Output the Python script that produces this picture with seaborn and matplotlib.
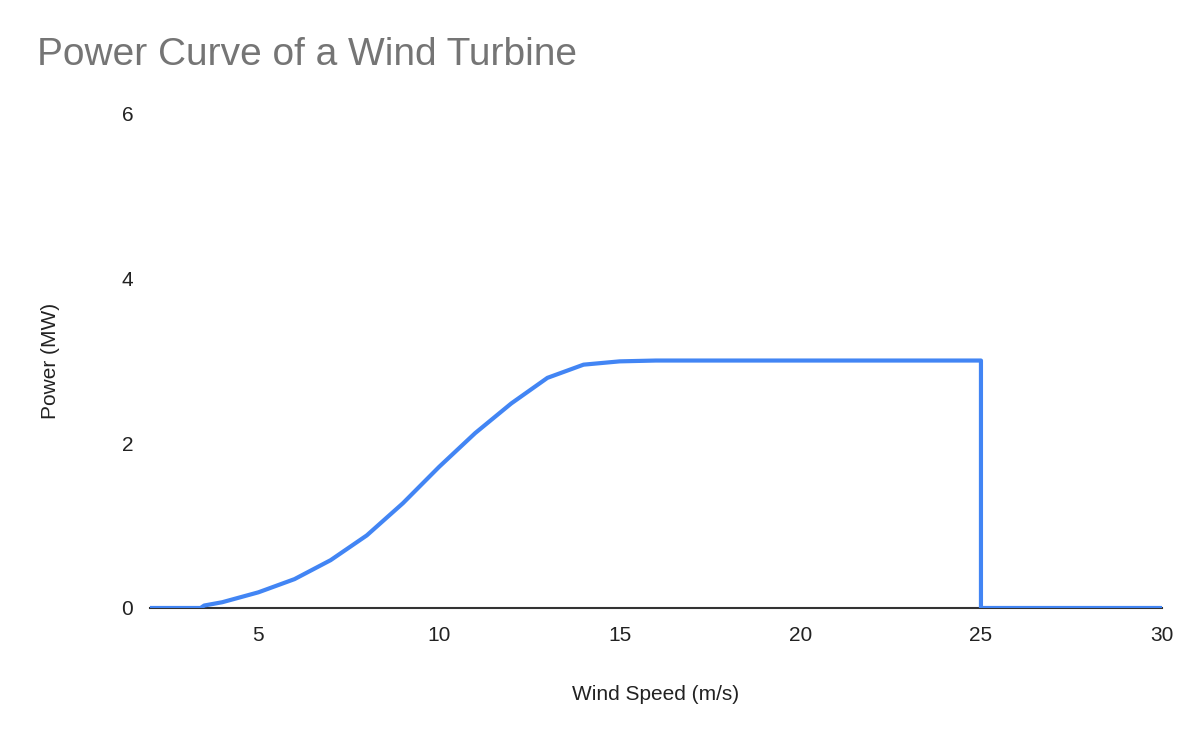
import numpy as np
import pandas as pd
import matplotlib
matplotlib.use('Agg')
import matplotlib.pyplot as plt
import seaborn as sns

# --- DADOS ---
wind_speed = [2, 3, 3.4, 3.5, 4, 5, 6, 7, 8, 9, 10, 11, 12, 13, 14, 15, 16, 17, 18, 19, 20,
              21, 22, 23, 24, 25, 25, 26, 27, 28, 29, 30]
power_mw = [0, 0, 0, 0.03, 0.07, 0.19, 0.35, 0.58, 0.88, 1.27, 1.71, 2.12, 2.48, 2.79, 2.95, 2.99, 3.0, 3.0, 3.0, 3.0, 3.0,
            3.0, 3.0, 3.0, 3.0, 3.0, 0, 0, 0, 0, 0, 0]
x_ticks = [5, 10, 15, 20, 25, 30]
y_ticks = [0, 2, 4, 6]

df = pd.DataFrame({'speed': wind_speed, 'power': power_mw})

# --- ESTILO ---
sns.set_theme(style='white')
plt.rcParams['font.family'] = ['Liberation Sans', 'DejaVu Sans']

fig = plt.figure(figsize=(12, 7.42), dpi=100)
ax = fig.add_axes([0.125, 0.1806, 0.843, 0.667])

# estimator=None: mantém os dois pontos em 25 m/s (queda vertical)
sns.lineplot(data=df, x='speed', y='power', sort=False, estimator=None,
             color='#4285F4', linewidth=3, ax=ax)

ax.set_xlim(2, 30)
ax.set_ylim(0, 6)
ax.set_xticks(x_ticks)
ax.set_yticks(y_ticks)
ax.tick_params(axis='both', length=0, labelsize=15, colors='#222222')
ax.tick_params(axis='x', pad=13)
ax.tick_params(axis='y', pad=12)

for s in ['top', 'right', 'left']:
    ax.spines[s].set_visible(False)
ax.spines['bottom'].set_color('#333333')
ax.spines['bottom'].set_linewidth(1.5)
ax.spines['bottom'].set_zorder(1)

ax.set_xlabel('Wind Speed (m/s)', fontsize=15, color='#222222', labelpad=29)
ax.set_ylabel('Power (MW)', fontsize=15, color='#222222', labelpad=44)

fig.text(0.031, 0.926, 'Power Curve of a Wind Turbine', fontsize=28, color='#757575',
         ha='left', va='center')

fig.savefig('out.png', dpi=100)
plt.close(fig)
